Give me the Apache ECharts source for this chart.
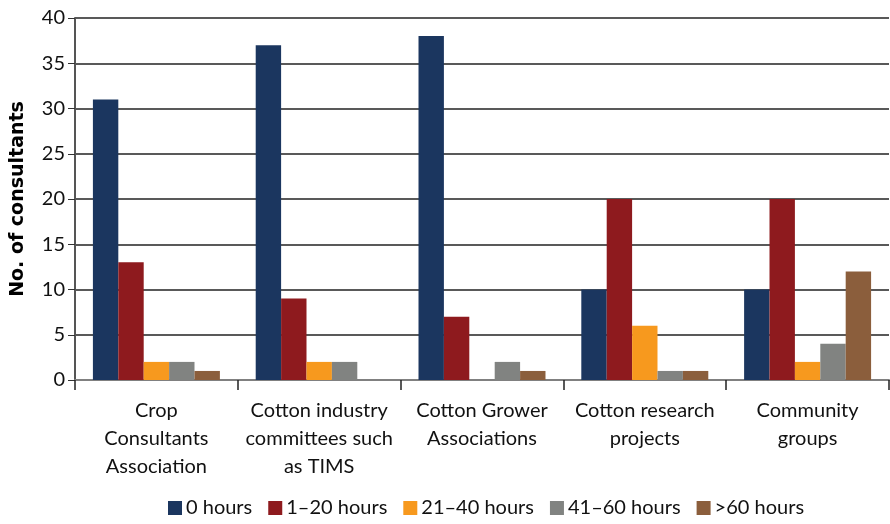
<!DOCTYPE html>
<html>
<head>
<meta charset="utf-8">
<script src="https://cdn.jsdelivr.net/npm/echarts@6/dist/echarts.min.js"></script>
<style>
  html, body { margin: 0; padding: 0; background: #fff; }
  #chart { width: 890px; height: 524px; }
</style>
</head>
<body>
<div id="chart"></div>
<script>
// Groups the consultants are involved with
const categories = [
  'Crop\nConsultants\nAssociation',
  'Cotton industry\ncommittees such\nas TIMS',
  'Cotton Grower\nAssociations',
  'Cotton research\nprojects',
  'Community\ngroups'
];

// Hours spent per group (number of consultants)
const seriesNames = ['0 hours', '1\u201320 hours', '21\u201340 hours', '41\u201360 hours', '>60 hours'];
const hours0 = [31, 37, 38, 10, 10];
const hours1to20 = [13, 9, 7, 20, 20];
const hours21to40 = [2, 2, 0, 6, 2];
const hours41to60 = [2, 2, 2, 1, 4];
const hoursOver60 = [1, 0, 1, 1, 12];

const colors = ['#1B365F', '#8E1A1E', '#F7991E', '#818381', '#8B5E3C'];
const values = [hours0, hours1to20, hours21to40, hours41to60, hoursOver60];

const font = 'Lato, "Open Sans", sans-serif';

const chart = echarts.init(document.getElementById('chart'));
chart.setOption({
  animation: false,
  color: colors,
  textStyle: { fontFamily: font },
  grid: { left: 75, right: 1, top: 18, bottom: 144, containLabel: false },
  legend: {
    bottom: 1,
    left: 163,
    itemWidth: 14,
    itemHeight: 14,
    itemGap: 16,
    icon: 'rect',
    textStyle: { fontFamily: font, fontSize: 20, color: '#111', padding: [0, 0, 0, -1] },
    data: seriesNames
  },
  xAxis: {
    type: 'category',
    data: categories,
    axisLine: { lineStyle: { color: '#808080', width: 2 } },
    axisTick: { show: true, length: 10, lineStyle: { color: '#222', width: 1.5 } },
    axisLabel: {
      fontFamily: font, fontSize: 20, color: '#111', lineHeight: 28, margin: 17,
      interval: 0
    }
  },
  yAxis: {
    type: 'value',
    min: 0, max: 40, interval: 5,
    name: 'No. of consultants',
    nameLocation: 'middle',
    nameGap: 47,
    nameRotate: 90,
    nameTextStyle: { fontFamily: '"DejaVu Sans", sans-serif', fontSize: 19, fontWeight: 'bold', color: '#000' },
    axisLine: { show: true, lineStyle: { color: '#555', width: 2 } },
    axisTick: { show: true, length: 7, lineStyle: { color: '#333' } },
    axisLabel: { fontFamily: font, fontSize: 20, color: '#111', margin: 10 },
    splitLine: { lineStyle: { color: '#222', width: 1.5 } }
  },
  series: seriesNames.map((name, i) => ({
    name,
    type: 'bar',
    data: values[i],
    barGap: '0%',
    barCategoryGap: '22%',
    itemStyle: { color: colors[i] }
  }))
});
</script>
</body>
</html>
